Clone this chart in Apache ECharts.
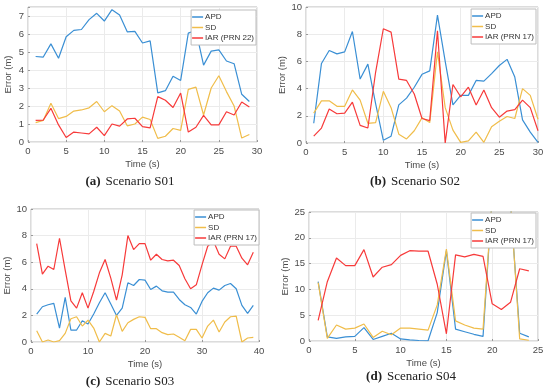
<!DOCTYPE html>
<html><head><meta charset="utf-8">
<script src="https://cdn.jsdelivr.net/npm/echarts@6/dist/echarts.min.js"></script>
<style>html,body{margin:0;padding:0;background:#fff}#c{width:550px;height:391px}</style>
</head><body><div id="c"></div>
<script>
// Panel (a) Scenario S01
var apdA = [4.75,4.72,5.45,4.65,5.85,6.2,6.25,6.8,7.15,6.72,7.35,7.05,6.12,6.15,5.5,5.62,2.73,2.85,3.65,3.42,6.05,6.2,4.27,5.05,5.12,4.5,4.35,2.65,2.25];
var sdA  = [1.08,1.2,2.15,1.3,1.42,1.72,1.78,1.9,2.25,1.68,2.02,1.72,0.9,1.0,1.38,1.25,0.2,0.32,0.75,0.65,2.92,3.05,1.5,3.0,3.68,2.8,2.0,0.22,0.42];
var iarA = [1.2,1.22,1.87,0.95,0.25,0.55,0.5,0.45,0.82,0.35,1.0,0.88,1.28,1.32,0.85,0.78,2.52,2.32,1.92,2.72,0.55,0.82,1.48,0.95,0.95,1.68,1.5,2.22,1.95];
// Panel (b) Scenario S02
var apdB = [1.45,5.85,6.8,6.55,6.7,8.2,4.7,5.8,2.9,0.2,0.5,2.8,3.3,4.1,5.05,5.3,9.4,6.0,2.8,3.5,3.5,4.6,4.55,5.1,5.7,6.15,4.85,1.7,0.8,0.05];
var sdB  = [2.2,3.1,3.1,2.7,2.7,3.9,3.15,1.45,1.5,3.8,2.6,0.65,0.3,0.9,1.85,1.5,6.7,2.6,0.95,0.05,0.15,0.8,0.05,1.2,1.6,1.95,1.8,4.0,3.5,1.75];
var iarB = [0.5,1.1,2.5,2.15,2.2,3.0,1.3,1.1,5.2,8.4,8.15,4.7,4.6,3.6,1.8,1.65,8.25,0.0,4.3,3.4,4.1,2.8,3.9,2.6,1.9,2.35,2.45,3.15,2.6,0.9];
// Panel (c) Scenario S03
var apdC = [2.1,2.65,2.8,2.9,1.05,3.35,0.9,0.9,1.6,1.35,2.1,2.95,3.7,2.85,2.0,2.55,4.45,4.25,4.7,4.65,3.95,4.2,3.85,3.75,3.75,3.2,2.8,2.6,2.1,3.05,3.7,4.05,3.9,4.25,4.4,4.0,2.75,2.15,2.75];
var sdC  = [0.85,0.0,0.15,0.0,0.1,0.65,1.75,1.9,1.2,1.65,1.05,0.0,0.65,0.45,2.05,0.8,1.45,1.7,1.9,1.85,1.0,1.0,0.7,0.55,0.6,0.35,0.1,0.95,0.95,0.3,1.2,1.65,0.75,1.5,1.9,1.95,0.0,0.3,0.35];
var iarC = [7.4,5.1,5.7,5.45,7.8,5.4,3.1,2.55,3.7,2.55,3.8,5.2,6.2,4.8,3.15,5.05,8.0,6.95,7.4,7.4,6.15,6.6,6.2,6.1,6.15,5.75,4.75,4.0,4.3,5.8,7.2,7.6,6.6,6.25,7.2,7.2,6.3,5.8,6.75];
// Panel (d) Scenario S04
var apdD = [11.5,0.8,0.5,0.8,0.9,2.6,0.3,0.9,1.5,0.4,0.2,0.1,0.05,5.5,17.5,2.3,1.8,1.3,0.9,28,30,26.5,1.5,0.8];
var sdD  = [11.3,0.5,3.1,2.3,2.5,3.3,0.7,1.9,1.2,2.5,2.5,2.3,2.1,7.0,17.8,3.9,3.1,2.5,2.3,28,30,27,0.4,0.15];
var iarD = [4.0,11.5,16.1,14.6,14.6,17.7,12.4,14.3,14.8,16.6,17.5,17.4,17.4,11.0,1.4,16.7,16.3,16.8,16.4,7.2,6.1,7.5,14.0,13.6];

var seriesNames = ['APD','SD'];
var iarNames = ['IAR (PRN 22)','IAR (PRN 17)','IAR (PRN 17)','IAR (PRN 17)'];
var captionTags = ['(a)','(b)','(c)','(d)'];
var captionTexts = ['Scenario S01','Scenario S02','Scenario S03','Scenario S04'];
var xMax = [30,30,40,25];
var yMax = [7.5,10,10,25];
var yInterval = [1,2,2,5];
var xInterval = [5,5,10,5];

var COLORS = ['#3a8fd4','#f0bd4a','#f73a3a'];
var grids = [
  {left:28, top:7, width:229, height:135},
  {left:306, top:7, width:232, height:136},
  {left:31, top:209, width:228, height:133},
  {left:309, top:212, width:229, height:129}
];
var legendPos = [
  {right:294, top:10},
  {right:14, top:9},
  {right:291, top:210},
  {right:14, top:213}
];
var captionPos = [
  {x:130, y:173},
  {x:415, y:173},
  {x:130, y:373},
  {x:411, y:368}
];
var data = [[apdA,sdA,iarA],[apdB,sdB,iarB],[apdC,sdC,iarC],[apdD,sdD,iarD]];

function pairs(arr){ return arr.map(function(v,i){ return [i+1, v]; }); }

var textColor = '#4a4a4a';
var option = {
  animation:false,
  backgroundColor:'#fff',
  grid: grids.map(function(g){ return Object.assign({show:true, borderColor:'#b8b8b8', borderWidth:1, containLabel:false}, g); }),
  xAxis: grids.map(function(g,i){ return {
    type:'value', gridIndex:i, min:0, max:xMax[i], interval:xInterval[i],
    name:'Time (s)', nameLocation:'middle', nameGap:17,
    nameTextStyle:{color:textColor, fontSize:9.5, fontFamily:'Liberation Sans'},
    axisLine:{show:false}, axisTick:{show:true, inside:true, length:2, lineStyle:{color:'#999'}},
    axisLabel:{color:textColor, fontSize:9.5, fontFamily:'Liberation Sans', margin:4},
    splitLine:{show:true, lineStyle:{color:'#ebebeb', width:1}}
  }; }),
  yAxis: grids.map(function(g,i){ return {
    type:'value', gridIndex:i, min:0, max:yMax[i], interval:yInterval[i],
    name:'Error (m)', nameLocation:'middle', nameGap:15,
    nameTextStyle:{color:textColor, fontSize:9.5, fontFamily:'Liberation Sans'},
    axisLine:{show:false}, axisTick:{show:true, inside:true, length:2, lineStyle:{color:'#999'}},
    axisLabel:{color:textColor, fontSize:9.5, fontFamily:'Liberation Sans', margin:4,
      formatter:function(v){ return (Math.abs(v/yInterval[i]-Math.round(v/yInterval[i]))<1e-6)? String(v) : ''; }},
    splitLine:{show:true, lineStyle:{color:'#ebebeb', width:1}}
  }; }),
  legend: grids.map(function(g,i){ return {
    orient:'vertical', right:legendPos[i].right, top:legendPos[i].top,
    data:[seriesNames[0], seriesNames[1], iarNames[i]],
    icon:'rect', itemWidth:11, itemHeight:1.5, itemGap:0.5,
    padding:[2,2,2,1], backgroundColor:'#fff', borderColor:'#bdbdbd', borderWidth:1,
    textStyle:{color:'#333', fontSize:8, fontFamily:'Liberation Sans', lineHeight:10, padding:[0,0,0,-3]},
    selectedMode:false
  }; }),
  title: grids.map(function(g,i){ return {
    text:'{b|'+captionTags[i]+'} {n|'+captionTexts[i]+'}',
    left:captionPos[i].x, top:captionPos[i].y, textAlign:'center', padding:0,
    textStyle:{fontWeight:'normal', rich:{
      b:{fontFamily:'Liberation Serif', fontWeight:'bold', fontSize:13, color:'#222'},
      n:{fontFamily:'Liberation Serif', fontWeight:'normal', fontSize:13, color:'#222'}
    }}
  }; }),
  series: []
};
data.forEach(function(d,i){
  var names = [seriesNames[0], seriesNames[1], iarNames[i]];
  d.forEach(function(arr,k){
    option.series.push({
      type:'line', name:names[k], xAxisIndex:i, yAxisIndex:i,
      data:pairs(arr), symbol:'none', clip:true,
      lineStyle:{color:COLORS[k], width:1.2}, itemStyle:{color:COLORS[k]}
    });
  });
});
var chart = echarts.init(document.getElementById('c'), null, {renderer:'canvas'});
chart.setOption(option);
</script></body></html>
